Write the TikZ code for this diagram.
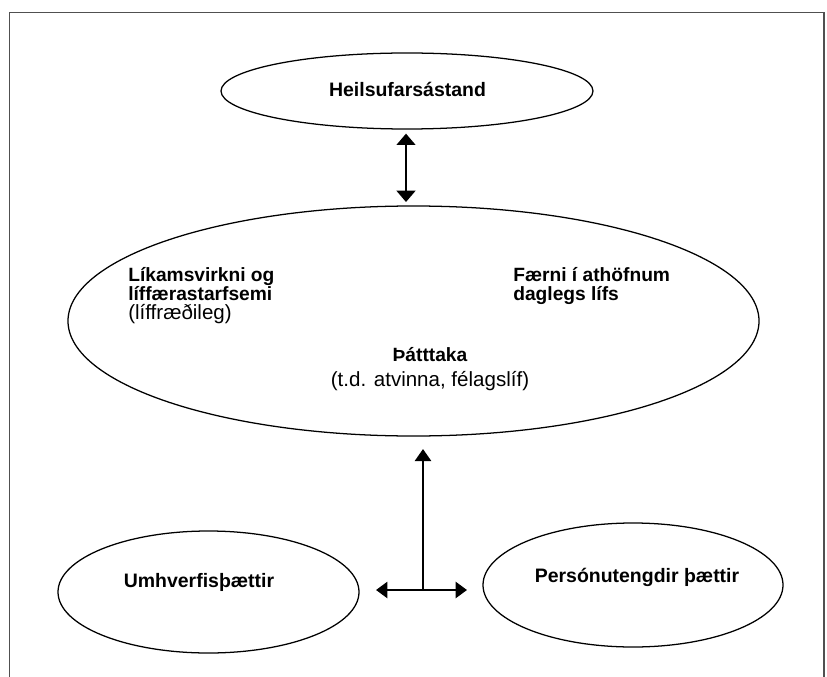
\documentclass[tikz,border=0pt]{standalone}
\usepackage{fontspec}
\setmainfont{Liberation Sans}
\usetikzlibrary{arrows.meta,shapes.geometric}
\definecolor{framegray}{RGB}{80,80,80}
\tikzset{
  oval/.style={draw=black, line width=0.95pt, ellipse, inner sep=0pt},
  boldtxt/.style={font=\fontsize{14.6pt}{14.25pt}\selectfont\bfseries, inner sep=0pt},
  multitxt/.style={font=\fontsize{14.4pt}{14.25pt}\selectfont, inner sep=0pt, align=left},
  thickarrow/.style={line width=1.8pt, -{Triangle[length=9pt,width=12pt]}},
  frameline/.style={draw=framegray, line width=1.15pt}
}
\newcommand\regtxt[1]{{\fontsize{15.4pt}{14.25pt}\selectfont\mdseries #1}}
\begin{document}
\begin{tikzpicture}[x=0.75pt,y=-0.75pt]
\useasboundingbox (0,0) rectangle (827,677);
% frame (open at bottom)
\draw[frameline] (9.5,677) -- (9.5,12.5) -- (824,12.5) -- (824,677);
% ellipses
\node[oval, minimum width=279pt, minimum height=57pt] (health) at (407,91) {};
\node[oval, minimum width=518.25pt, minimum height=172.5pt] (core) at (413.5,321) {};
\node[oval, minimum width=225.75pt, minimum height=91.5pt] (env) at (208.5,592) {};
\node[oval, minimum width=225pt, minimum height=93pt] (pers) at (633,585) {};
% texts
\node[boldtxt, anchor=base] (thealth) at (407.5,97) {Heilsufarsástand};
\node[multitxt, anchor=base west] (tbody) at (128,319) {\bfseries Líkamsvirkni og\\\bfseries líffærastarfsemi\\\regtxt{(líffræðileg)}};
\node[multitxt, anchor=base west] (tact) at (513,300) {\bfseries Færni í athöfnum\\\bfseries daglegs lífs};
\node[multitxt, align=center, anchor=base] (tpart) at (430,386) {\bfseries Þátttaka\\[4pt]\regtxt{(t.d. atvinna, félagslíf)}};
\node[boldtxt, anchor=base] (tenv) at (199,587) {Umhverfisþættir};
\node[boldtxt, anchor=base] (tpers) at (637,582) {Persónutengdir þættir};
% connectors
\draw[line width=1.8pt, {Triangle[length=8.5pt,width=14pt]}-{Triangle[length=8.5pt,width=14pt]}, shorten <=3pt, shorten >=2.5pt] (health.south -| 406,0) -- (core.north -| 406,0);
\coordinate (junc) at (423,590);
\coordinate (uptip) at (423,449);
\coordinate (lefttip) at (376,590);
\coordinate (righttip) at (467,590);
\draw[thickarrow] (junc) -- (uptip);
\draw[line width=1.8pt, {Triangle[length=8.5pt,width=12pt]}-{Triangle[length=8.5pt,width=12pt]}] (lefttip) -- (righttip);
\end{tikzpicture}
\end{document}
